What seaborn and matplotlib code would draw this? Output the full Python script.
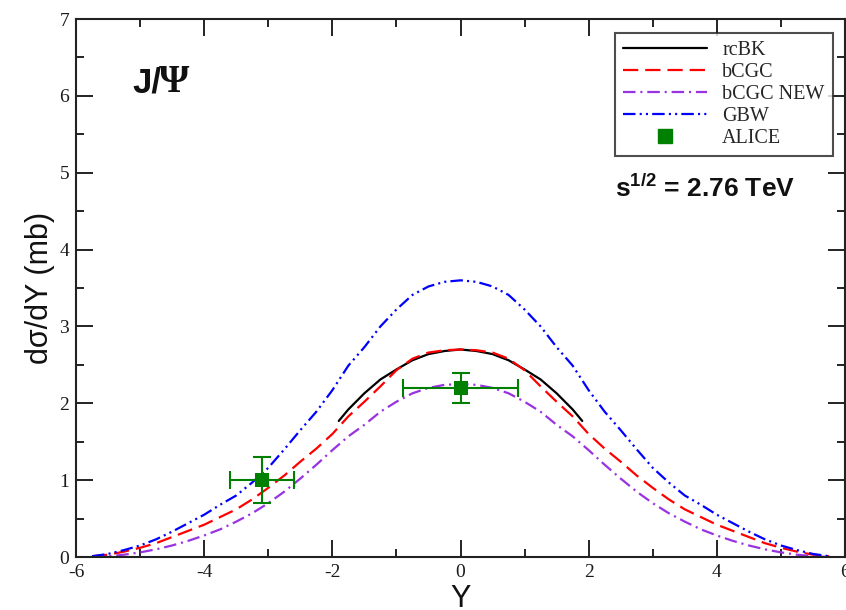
import numpy as np
import pandas as pd
import matplotlib
matplotlib.use("Agg")
import matplotlib.pyplot as plt
import seaborn as sns
from matplotlib.ticker import MultipleLocator
from matplotlib.lines import Line2D

# Rapidity grid for the model curves
Y_GRID = [-5.75, -5.5, -5.25, -5.0, -4.75, -4.5, -4.25, -4.0, -3.75, -3.5, -3.25,
          -3.0, -2.75, -2.5, -2.25, -2.0, -1.75, -1.5, -1.25, -1.0, -0.75, -0.5,
          -0.25, 0.0, 0.25, 0.5, 0.75, 1.0, 1.25, 1.5, 1.75, 2.0, 2.25, 2.5, 2.75,
          3.0, 3.25, 3.5, 3.75, 4.0, 4.25, 4.5, 4.75, 5.0, 5.25, 5.5, 5.75]

gbw = [0.01, 0.04, 0.09, 0.15, 0.23, 0.33, 0.44, 0.55, 0.68, 0.80, 0.97,
       1.16, 1.40, 1.65, 1.89, 2.17, 2.49, 2.73, 3.00, 3.22, 3.41, 3.52,
       3.58, 3.60, 3.58, 3.52, 3.41, 3.22, 3.00, 2.73, 2.49, 2.17, 1.89, 1.65, 1.40,
       1.16, 0.97, 0.80, 0.68, 0.55, 0.44, 0.33, 0.23, 0.15, 0.09, 0.04, 0.01]

bcgc = [0.01, 0.03, 0.07, 0.12, 0.18, 0.26, 0.34, 0.42, 0.52, 0.62, 0.75,
        0.90, 1.06, 1.24, 1.41, 1.60, 1.83, 2.02, 2.22, 2.43, 2.58, 2.66,
        2.69, 2.70, 2.69, 2.66, 2.58, 2.43, 2.22, 2.02, 1.83, 1.60, 1.41, 1.24, 1.06,
        0.90, 0.75, 0.62, 0.52, 0.42, 0.34, 0.26, 0.18, 0.12, 0.07, 0.03, 0.01]

bcgc_new = [0.00, 0.01, 0.03, 0.06, 0.10, 0.15, 0.21, 0.28, 0.36, 0.46, 0.57,
            0.70, 0.85, 1.02, 1.20, 1.39, 1.57, 1.72, 1.89, 2.02, 2.13, 2.20,
            2.24, 2.25, 2.24, 2.20, 2.13, 2.02, 1.89, 1.72, 1.57, 1.39, 1.20, 1.02, 0.85,
            0.70, 0.57, 0.46, 0.36, 0.28, 0.21, 0.15, 0.10, 0.06, 0.03, 0.01, 0.00]

# rcBK is only available in the central region
Y_RCBK = [-1.9, -1.75, -1.5, -1.25, -1.0, -0.75, -0.5, -0.25, 0.0,
          0.25, 0.5, 0.75, 1.0, 1.25, 1.5, 1.75, 1.9]
rcbk = [1.77, 1.92, 2.13, 2.31, 2.44, 2.56, 2.64, 2.68, 2.70,
        2.68, 2.64, 2.56, 2.44, 2.31, 2.13, 1.92, 1.77]

# ALICE measurements
alice_y = [-3.1, 0.0]
alice_val = [1.0, 2.2]
alice_xerr = [0.5, 0.9]
alice_yerr = [0.3, 0.2]

sns.set_theme(style="ticks")
plt.rcParams["font.family"] = ["Liberation Sans", "DejaVu Sans"]
plt.rcParams["mathtext.fontset"] = "custom"
plt.rcParams["mathtext.rm"] = "Liberation Sans"
plt.rcParams["mathtext.bf"] = "Liberation Sans:bold"
plt.rcParams["lines.scale_dashes"] = False
plt.rcParams["axes.unicode_minus"] = False

fig = plt.figure(figsize=(8.46, 6.10), dpi=100)
ax = fig.add_axes([76 / 846, 1 - 557 / 610, 769 / 846, 538 / 610])

lw = 1.6
curves = pd.DataFrame({"Y": Y_GRID, "GBW": gbw, "bCGC": bcgc, "bCGC NEW": bcgc_new})
rc_df = pd.DataFrame({"Y": Y_RCBK, "rcBK": rcbk})

sns.lineplot(data=rc_df, x="Y", y="rcBK", ax=ax, color="black", linewidth=lw,
             errorbar=None, label="rcBK")
sns.lineplot(data=curves, x="Y", y="bCGC", ax=ax, color="#ff0000", linewidth=lw,
             linestyle=(0, (11, 5)), errorbar=None, label="bCGC")
sns.lineplot(data=curves, x="Y", y="bCGC NEW", ax=ax, color="#9932e0", linewidth=lw,
             linestyle=(0, (9, 3.5, 1.5, 3.5)), errorbar=None, label="bCGC NEW")
sns.lineplot(data=curves, x="Y", y="GBW", ax=ax, color="#0000ff", linewidth=lw,
             linestyle=(0, (9, 3, 1.5, 3, 1.5, 3)), errorbar=None, label="GBW")

green = "#008000"
ax.errorbar(alice_y, alice_val, xerr=alice_xerr, yerr=alice_yerr, fmt="none",
            ecolor=green, elinewidth=1.5, capsize=6.5, capthick=1.5, zorder=4)
sns.scatterplot(x=alice_y, y=alice_val, ax=ax, marker="s", s=95, color=green,
                edgecolor=green, linewidth=0, zorder=5, label="ALICE")

ax.set_xlim(-6, 6)
ax.set_ylim(0, 7)
ax.xaxis.set_major_locator(MultipleLocator(2))
ax.xaxis.set_minor_locator(MultipleLocator(1))
ax.yaxis.set_major_locator(MultipleLocator(1))
ax.yaxis.set_minor_locator(MultipleLocator(0.5))
ax.tick_params(which="both", direction="in", top=True, right=True,
               width=1.4, color="#222222")
ax.tick_params(which="major", length=12, pad=5)
ax.tick_params(which="minor", length=6)
for lab in ax.get_xticklabels() + ax.get_yticklabels():
    lab.set_fontfamily("Liberation Serif")
    lab.set_fontsize(14)
    lab.set_color("#1a1a1a")
for sp in ax.spines.values():
    sp.set_linewidth(1.5)
    sp.set_color("#222222")

ax.set_xlabel("Y", fontsize=22, labelpad=2, color="#111111")
ax.set_ylabel("dσ/dY (mb)", fontsize=22, labelpad=3, color="#111111")

ax.text(0.073, 0.864, "J/", transform=ax.transAxes, fontsize=25,
        fontweight="bold", va="baseline", ha="left", color="#111111")
ax.text(0.108, 0.864, "Ψ", transform=ax.transAxes, fontsize=28,
        family="Liberation Serif", fontweight="bold", va="baseline", ha="left",
        color="#111111")
ax.text(0.701, 0.669, r"$\mathbf{s^{1/2}}$ = 2.76 TeV", transform=ax.transAxes,
        fontsize=19, fontweight="bold", va="baseline", ha="left", color="#111111")

handles, labels = ax.get_legend_handles_labels()
handles[-1] = Line2D([], [], marker="s", linestyle="none", color=green,
                     markersize=9.5)
leg = ax.legend(handles, labels, loc="upper right", bbox_to_anchor=(0.984, 0.974),
                borderaxespad=0, frameon=True, fancybox=False, edgecolor="#222222",
                prop={"family": "Liberation Serif", "size": 14.5},
                handlelength=4.2, handletextpad=0.75, labelspacing=0.14,
                borderpad=0.4)
leg.get_frame().set_linewidth(1.5)

fig.savefig("out.png", dpi=100)
